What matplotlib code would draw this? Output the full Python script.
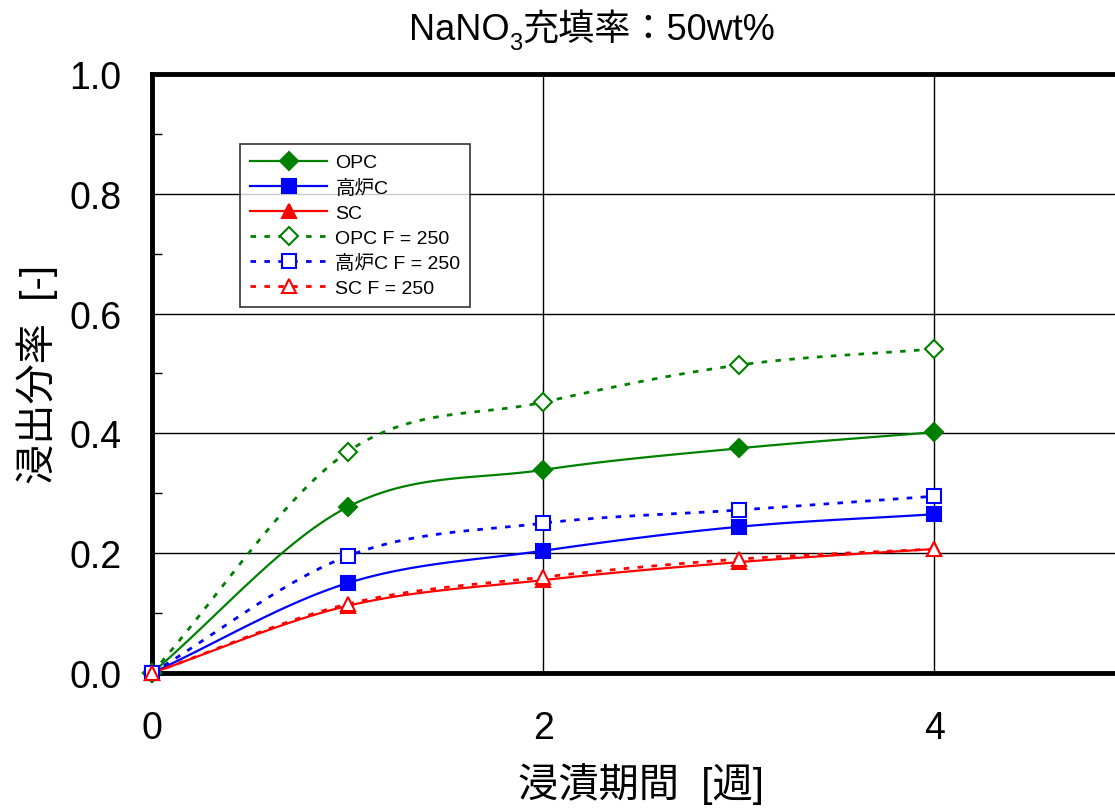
import numpy as np
import matplotlib
matplotlib.use('Agg')
import matplotlib.pyplot as plt

plt.rcParams['font.family'] = ['Liberation Sans', 'Noto Sans CJK JP']

weeks = [0, 1, 2, 3, 4]
opc = [0.0, 0.277, 0.339, 0.375, 0.402]
bf = [0.0, 0.150, 0.204, 0.244, 0.265]
sc = [0.0, 0.112, 0.155, 0.185, 0.207]
opc_f = [0.0, 0.369, 0.452, 0.514, 0.541]
bf_f = [0.0, 0.195, 0.250, 0.272, 0.295]
sc_f = [0.0, 0.115, 0.160, 0.190, 0.207]
names = ['OPC', '高炉C', 'SC', 'OPC F = 250', '高炉C F = 250', 'SC F = 250']


def smooth(x, y, n=30):
    # Catmull-Rom curve through the points, like the spreadsheet's smoothed line
    x = np.asarray(x, float)
    y = np.asarray(y, float)
    px = np.concatenate([[2 * x[0] - x[1]], x, [2 * x[-1] - x[-2]]])
    py = np.concatenate([[2 * y[0] - y[1]], y, [2 * y[-1] - y[-2]]])
    xs, ys = [], []
    t = np.linspace(0, 1, n)
    for i in range(1, len(px) - 2):
        for p, out in ((px, xs), (py, ys)):
            p0, p1, p2, p3 = p[i - 1], p[i], p[i + 1], p[i + 2]
            out.extend(0.5 * (2 * p1 + (-p0 + p2) * t + (2 * p0 - 5 * p1 + 4 * p2 - p3) * t ** 2
                              + (-p0 + 3 * p1 - 3 * p2 + p3) * t ** 3))
    return xs, ys


fig = plt.figure(figsize=(11.15, 8.12), dpi=100)
ax = fig.add_axes([0.1363, 0.170, 0.877, 0.7377])

green, blue, red = '#008000', '#0000ff', '#ff0000'
series = [
    (opc, green, '-', 'D', green),
    (bf, blue, '-', 's', blue),
    (sc, red, '-', '^', red),
    (opc_f, green, (0, (2, 3)), 'D', 'white'),
    (bf_f, blue, (0, (2, 3)), 's', 'white'),
    (sc_f, red, (0, (2, 3)), '^', 'white'),
]
handles = []
for (vals, col, ls, mk, fc), name in zip(series, names):
    sx, sy = smooth(weeks, vals)
    lw = 1.6 if ls == '-' else 2.0
    ms = 9 if mk == 'D' else 10
    ax.plot(sx, sy, color=col, ls=ls, lw=lw, zorder=3)
    ax.plot(weeks, vals, ls='none', marker=mk, ms=ms, mfc=fc, mec=col, mew=1.5, zorder=4, clip_on=False)
    h, = ax.plot([], [], color=col, ls=ls, lw=lw, marker=mk, ms=ms, mfc=fc, mec=col, mew=1.5)
    handles.append(h)

ax.set_xlim(0, 5)
ax.set_ylim(0, 1.0)
ax.set_xticks([0, 2, 4])
ax.set_yticks(np.arange(0, 1.01, 0.2))
ax.set_yticks(np.arange(0.1, 1.0, 0.2), minor=True)
ax.set_yticklabels([f'{v:.1f}' for v in np.arange(0, 1.01, 0.2)])
ax.grid(True, which='major', color='black', lw=1.0)
ax.tick_params(axis='both', which='major', labelsize=27, length=0)
ax.tick_params(axis='x', which='major', pad=27)
ax.tick_params(axis='y', which='major', pad=22)
ax.tick_params(axis='y', which='minor', direction='in', length=7, width=1)
for s in ['left', 'bottom', 'top']:
    ax.spines[s].set_linewidth(3.5)
ax.spines['right'].set_visible(False)

ax.set_xlabel('浸漬期間  [週]', fontsize=29, labelpad=11)
ax.set_ylabel('浸出分率  [-]', fontsize=29, labelpad=8)

leg = ax.legend(handles, names, loc='upper left', bbox_to_anchor=(0.09, 0.883),
                fontsize=14, frameon=True, fancybox=False, edgecolor='black',
                handlelength=4.0, handletextpad=0.4, labelspacing=0.38, borderpad=0.5,
                borderaxespad=0)
leg.get_frame().set_linewidth(1.2)

# title with subscript 3, centred over the plot area
fig.canvas.draw()
r = fig.canvas.get_renderer()
parts = [fig.text(0, 0.951, 'NaNO', fontsize=26, va='baseline'),
         fig.text(0, 0.938, '3', fontsize=17, va='baseline'),
         fig.text(0, 0.951, '充填率：50wt%', fontsize=26, va='baseline')]
widths = [p.get_window_extent(r).width / fig.bbox.width for p in parts]
x0 = 592 / 1115 - sum(widths) / 2
for p, w in zip(parts, widths):
    p.set_x(x0)
    x0 += w

fig.savefig('out.png', dpi=100)
